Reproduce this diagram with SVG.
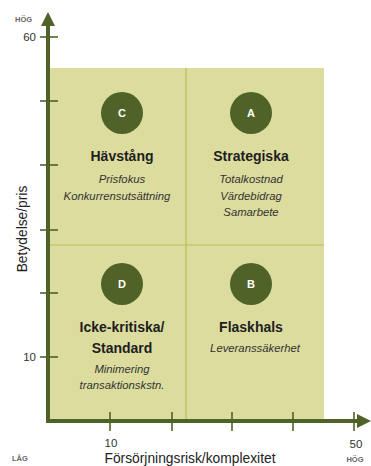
<svg xmlns="http://www.w3.org/2000/svg" width="371" height="466" viewBox="0 0 371 466">
<style>
.ax{stroke:#4f6228;stroke-width:4;fill:none}
.tk{stroke:#4f6228;stroke-width:1.6}
.dv{stroke:#b3c15a;stroke-width:1.2}
.circ{fill:#4f6228}
.ct{font-family:"Liberation Sans",Arial,sans-serif;font-size:11px;font-weight:bold;fill:#fff;text-anchor:middle}
.h{font-family:"Liberation Sans",Arial,sans-serif;font-size:14px;font-weight:bold;fill:#1e1e1e;text-anchor:middle}
.s{font-family:"Liberation Sans",Arial,sans-serif;font-size:11.3px;font-style:italic;fill:#333;text-anchor:middle}
.n{font-family:"Liberation Sans",Arial,sans-serif;font-size:11.5px;fill:#333}
.sm{font-family:"Liberation Sans",Arial,sans-serif;font-size:7.5px;font-weight:bold;fill:#666}
.al{font-family:"Liberation Sans",Arial,sans-serif;font-size:13.8px;fill:#222}
</style>
<rect x="0" y="0" width="371" height="466" fill="#fff"/>
<rect id="field" x="48" y="68" width="276" height="353" fill="#dcdc9e"/>
<g id="dividers">
<line class="dv" x1="186" y1="68" x2="186" y2="419"/>
<line class="dv" x1="50" y1="245" x2="324" y2="245"/>
</g>
<g id="axes">
<line class="ax" x1="48" y1="24" x2="48" y2="421"/>
<polygon points="48,12 41,26 55,26" fill="#4f6228"/>
<line class="ax" x1="46" y1="421" x2="360" y2="421"/>
<polygon points="371,421 357,414 357,428" fill="#4f6228"/>
<line class="tk" x1="40" y1="37" x2="58" y2="37"/>
<line class="tk" x1="40" y1="101" x2="58" y2="101"/>
<line class="tk" x1="40" y1="165" x2="58" y2="165"/>
<line class="tk" x1="40" y1="230" x2="58" y2="230"/>
<line class="tk" x1="40" y1="293" x2="58" y2="293"/>
<line class="tk" x1="40" y1="357" x2="58" y2="357"/>
<line class="tk" x1="110" y1="412" x2="110" y2="431"/>
<line class="tk" x1="172" y1="412" x2="172" y2="431"/>
<line class="tk" x1="232" y1="412" x2="232" y2="431"/>
<line class="tk" x1="293" y1="412" x2="293" y2="431"/>
<line class="tk" x1="354" y1="412" x2="354" y2="431"/>
</g>
<g id="axis-labels">
<text class="sm" x="15" y="22">HÖG</text>
<text class="n" x="36" y="41" text-anchor="end">60</text>
<text class="n" x="36" y="361" text-anchor="end">10</text>
<text class="n" x="111" y="447" text-anchor="middle">10</text>
<text class="n" x="356" y="448" text-anchor="middle">50</text>
<text class="sm" x="355" y="462" text-anchor="middle">HÖG</text>
<text class="sm" x="12" y="461">LÅG</text>
<text class="al" x="190" y="463" text-anchor="middle">Försörjningsrisk/komplexitet</text>
<text class="al" x="0" y="0" text-anchor="middle" transform="translate(27,229) rotate(-90)">Betydelse/pris</text>
</g>
<g id="node-C">
<circle class="circ" cx="122" cy="113" r="21"/>
<text class="ct" x="122" y="117">C</text>
<text class="h" x="122" y="161">Hävstång</text>
<text class="s" x="122" y="183">Prisfokus</text>
<text class="s" x="117" y="200">Konkurrensutsättning</text>
</g>
<g id="node-A">
<circle class="circ" cx="251" cy="113" r="21"/>
<text class="ct" x="251" y="117">A</text>
<text class="h" x="251" y="161">Strategiska</text>
<text class="s" x="251" y="183">Totalkostnad</text>
<text class="s" x="251" y="200">Värdebidrag</text>
<text class="s" x="251" y="216">Samarbete</text>
</g>
<g id="node-D">
<circle class="circ" cx="122" cy="284" r="21"/>
<text class="ct" x="122" y="288">D</text>
<text class="h" x="122" y="332">Icke-kritiska/</text>
<text class="h" x="122" y="353">Standard</text>
<text class="s" x="122" y="373">Minimering</text>
<text class="s" x="122" y="389">transaktionskstn.</text>
</g>
<g id="node-B">
<circle class="circ" cx="251" cy="284" r="21"/>
<text class="ct" x="251" y="288">B</text>
<text class="h" x="251" y="332">Flaskhals</text>
<text class="s" x="255" y="352">Leveranssäkerhet</text>
</g>
</svg>
